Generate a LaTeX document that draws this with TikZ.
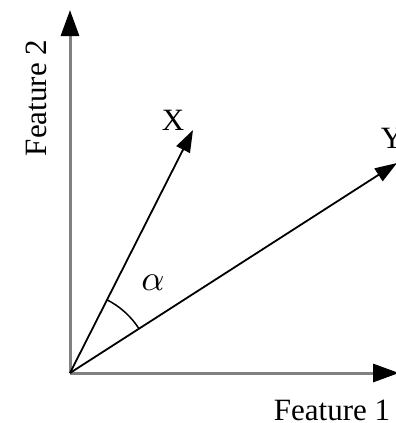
\documentclass[tikz,border=0pt]{standalone}
\usepackage{fontspec}
\setmainfont{Liberation Serif}
\usetikzlibrary{arrows.meta,calc}
\begin{document}
\begin{tikzpicture}[x=1pt,y=-1pt,
  axis/.style={draw=black!50,line width=3pt,-{Triangle[length=26pt,width=18pt,color=black]}},
  vec/.style={draw=black,line width=1.8pt,-{Triangle[length=22pt,width=15pt]}},
  lbl/.style={font=\fontsize{31}{33}\selectfont,inner sep=0pt}]
\useasboundingbox (0,0) rectangle (396,423);
\clip (0,0) rectangle (396,423);
\coordinate (O) at (70,373);
\coordinate (ytip) at (70,10);
\coordinate (xtip) at (399,373);
\coordinate (Xtip) at (193,130);
\coordinate (Ytip) at (397,163);
\draw[axis] (O) -- (ytip);
\draw[axis] (O) -- (xtip);
\draw[vec] (O) -- (Xtip);
\draw[vec] (O) -- (Ytip);
\draw[line width=1.5pt] ($(O)+(-63.3:82)$) arc[start angle=-63.3,end angle=-32.8,radius=82];
\node[lbl] (xl) at (173,120) {X};
\node[lbl] (yl) at (392,138) {Y};
\node[lbl,rotate=90] (f2) at (36,98) {Feature 2};
\node[lbl] (f1) at (332,410) {Feature 1};
\node[inner sep=0pt] (al) at (153,283) {\scalebox{3.6}{$\alpha$}};
\end{tikzpicture}
\end{document}
